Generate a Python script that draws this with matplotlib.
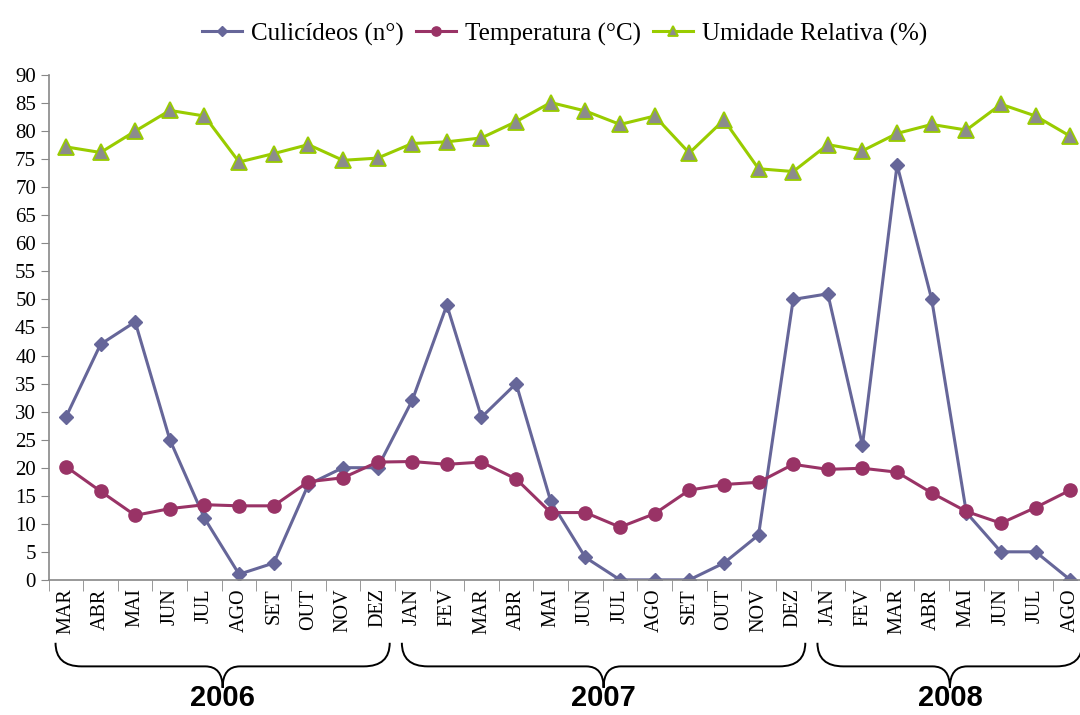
import matplotlib.pyplot as plt
import numpy as np
from matplotlib.path import Path
from matplotlib.patches import PathPatch
from matplotlib.transforms import blended_transform_factory

plt.rcParams['font.family'] = ['Liberation Serif', 'DejaVu Serif']

# meses de MAR/2006 a AGO/2008
meses = ["MAR", "ABR", "MAI", "JUN", "JUL", "AGO", "SET", "OUT", "NOV", "DEZ",
         "JAN", "FEV", "MAR", "ABR", "MAI", "JUN", "JUL", "AGO", "SET", "OUT", "NOV", "DEZ",
         "JAN", "FEV", "MAR", "ABR", "MAI", "JUN", "JUL", "AGO"]
anos = ["2006", "2007", "2008"]
meses_por_ano = [10, 12, 8]

culicideos = [29, 42, 46, 25, 11, 1, 3, 17, 20, 20,
              32, 49, 29, 35, 14, 4, 0, 0, 0, 3, 8, 50,
              51, 24, 74, 50, 12, 5, 5, 0]
temperatura = [20.2, 15.8, 11.5, 12.7, 13.4, 13.2, 13.2, 17.5, 18.2, 21.0,
               21.1, 20.6, 21.0, 18.0, 12.0, 12.0, 9.4, 11.8, 16.0, 17.0, 17.4, 20.6,
               19.7, 19.9, 19.2, 15.5, 12.2, 10.1, 12.9, 16.0]
umidade = [77.2, 76.2, 80.0, 83.7, 82.7, 74.5, 76.0, 77.6, 74.8, 75.2,
           77.8, 78.1, 78.8, 81.7, 85.1, 83.6, 81.2, 82.7, 76.1, 82.0, 73.3, 72.8,
           77.6, 76.5, 79.6, 81.2, 80.2, 84.8, 82.7, 79.1]

x = np.arange(len(meses))

fig = plt.figure(figsize=(10.8, 7.15), dpi=100)
ax = fig.add_axes([0.045, 0.189, 0.962, 0.706])

ax.plot(x, culicideos, color="#666699", lw=2.2, marker="D", markersize=7,
        label="Culicídeos (n°)")
ax.plot(x, temperatura, color="#993366", lw=2.2, marker="o", markersize=9.5,
        label="Temperatura (°C)")
ax.plot(x, umidade, color="#99CC00", lw=2.2, marker="^", markersize=11,
        markerfacecolor="#8C8C8C", markeredgecolor="#99CC00", markeredgewidth=1.3,
        label="Umidade Relativa (%)")

ax.set_xlim(-0.5, len(meses) - 0.5)
ax.set_ylim(0, 90)
ax.set_yticks(np.arange(0, 91, 5))
ax.tick_params(axis="y", labelsize=15, color="#888888", length=6, pad=3)

ax.set_xticks(x)
ax.set_xticklabels(meses, rotation=90, fontsize=14.5)
ax.set_xticks(np.arange(-0.5, len(meses)), minor=True)
ax.tick_params(axis="x", which="major", length=0, pad=6)
ax.tick_params(axis="x", which="minor", length=8, color="#888888")

for s in ["top", "right"]:
    ax.spines[s].set_visible(False)
for s in ["left", "bottom"]:
    ax.spines[s].set_color("#888888")
    ax.spines[s].set_linewidth(1.2)

# chaves com os anos
trans = blended_transform_factory(ax.transData, fig.transFigure)
y_top, y_mid, y_bot = 0.101, 0.068, 0.038
inicio = 0
for ano, n in zip(anos, meses_por_ano):
    x0 = inicio - 0.3
    x1 = inicio + n - 1 + 0.35
    xc = (x0 + x1) / 2
    r = 0.75
    rc = 0.5
    verts = [(x0, y_top), (x0, y_mid), (x0 + r, y_mid),
             (xc - rc, y_mid),
             (xc, y_mid), (xc, y_bot),
             (xc, y_mid), (xc + rc, y_mid),
             (x1 - r, y_mid),
             (x1, y_mid), (x1, y_top)]
    codes = [Path.MOVETO, Path.CURVE3, Path.CURVE3,
             Path.LINETO,
             Path.CURVE3, Path.CURVE3,
             Path.CURVE3, Path.CURVE3,
             Path.LINETO,
             Path.CURVE3, Path.CURVE3]
    patch = PathPatch(Path(verts, codes), transform=trans, fill=False,
                      lw=1.4, color="black", clip_on=False)
    fig.add_artist(patch)
    fig.text(xc, 0.004, ano, transform=trans, ha="center", va="bottom",
             fontsize=21, fontweight="bold", family="Liberation Sans")
    inicio += n

fig.legend(loc="upper center", bbox_to_anchor=(0.523, 1.0), ncol=3, frameon=False,
           fontsize=18, handlelength=1.6, columnspacing=0.5, handletextpad=0.35,
           markerscale=0.7)

fig.savefig("out.png", dpi=100)
